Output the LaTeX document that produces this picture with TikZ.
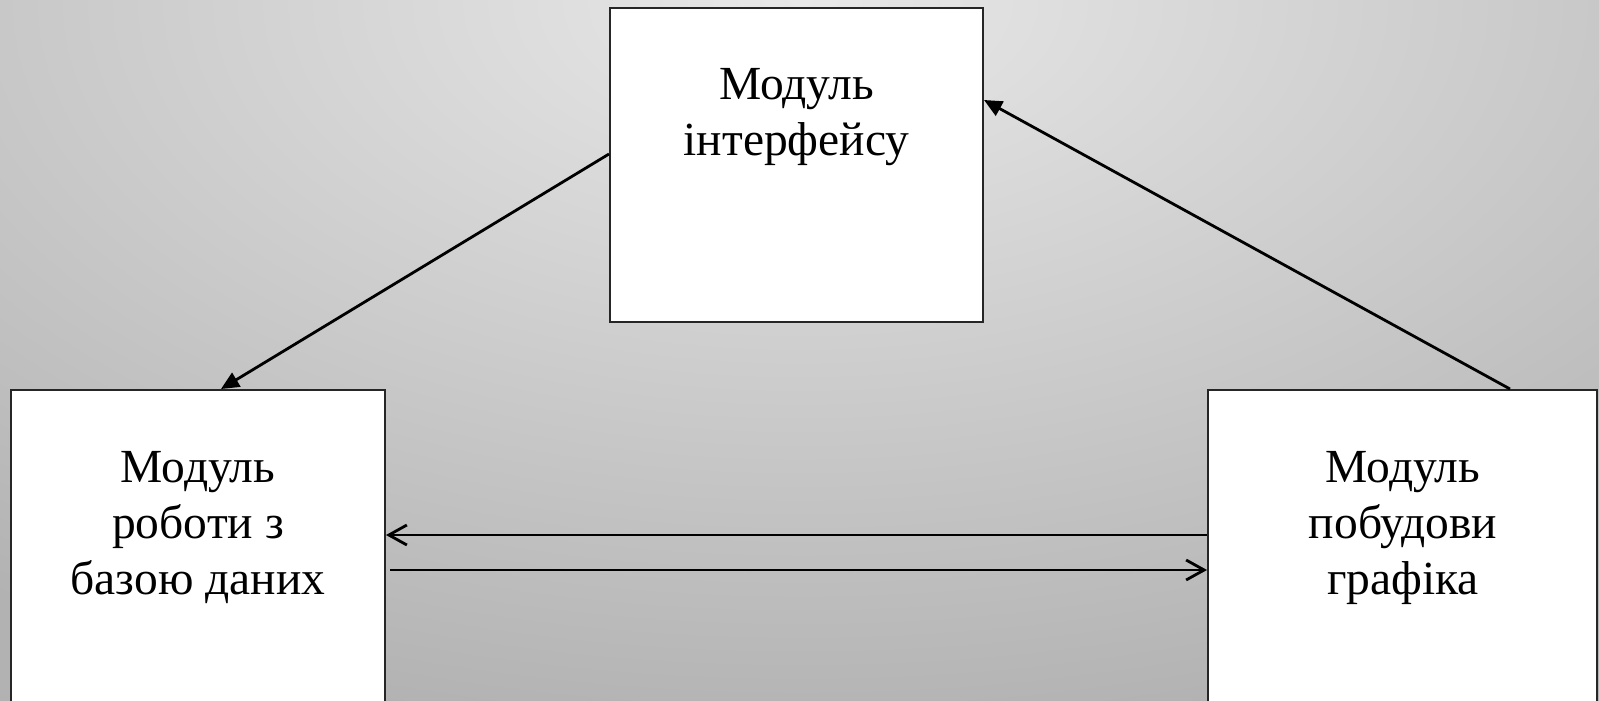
\documentclass[tikz,border=0pt]{standalone}
\usepackage{fontspec}
\setmainfont{Liberation Serif}
\usetikzlibrary{arrows.meta,calc}
\definecolor{bgin}{HTML}{E8E8E8}
\definecolor{bgout}{HTML}{B2B2B2}
\begin{document}
\begin{tikzpicture}[x=1pt,y=-1pt,
  box/.style={draw=black!85,line width=2pt,fill=white,inner sep=0pt},
  lbl/.style={font=\fontsize{47.5}{56}\selectfont,align=center,anchor=north,inner sep=0pt},
  filledarrow/.style={line width=2.8pt,-{Triangle[length=18pt,width=16pt]}},
  openarrow/.style={line width=2.8pt,-{Straight Barb[length=18pt,width=20pt,line width=2.8pt]}}]
\clip (0,0) rectangle (1599,701);
\fill[bgout] (0,0) rectangle (1599,701);
\shade[inner color=bgin,outer color=bgout] (800,0) ellipse [x radius=1350, y radius=740];
% boxes
\node[box,minimum width=373pt,minimum height=314pt] (top) at (796.5,165) {};
\node[box,minimum width=374pt,minimum height=340pt] (left) at (198,560) {};
\node[box,minimum width=389pt,minimum height=340pt] (right) at (1402.5,560) {};
% labels
\node[lbl] (ttop) at (796.5,68) {Модуль\\інтерфейсу};
\node[lbl] (tleft) at (198,451) {Модуль\\роботи з\\базою даних};
\node[lbl] (tright) at (1403,451) {Модуль\\побудови\\графіка};
% connectors
\draw[filledarrow] ([yshift=-147pt]top.north west) -- ([xshift=211pt]left.north west);
\draw[filledarrow] ([xshift=303pt]right.north west) -- ([yshift=-93pt]top.north east);
\draw[openarrow] ([yshift=-146pt]right.north west) -- ([yshift=-146pt]left.north east);
\draw[openarrow] ([xshift=4pt,yshift=-181pt]left.north east) -- ([yshift=-181pt]right.north west);
\end{tikzpicture}
\end{document}
